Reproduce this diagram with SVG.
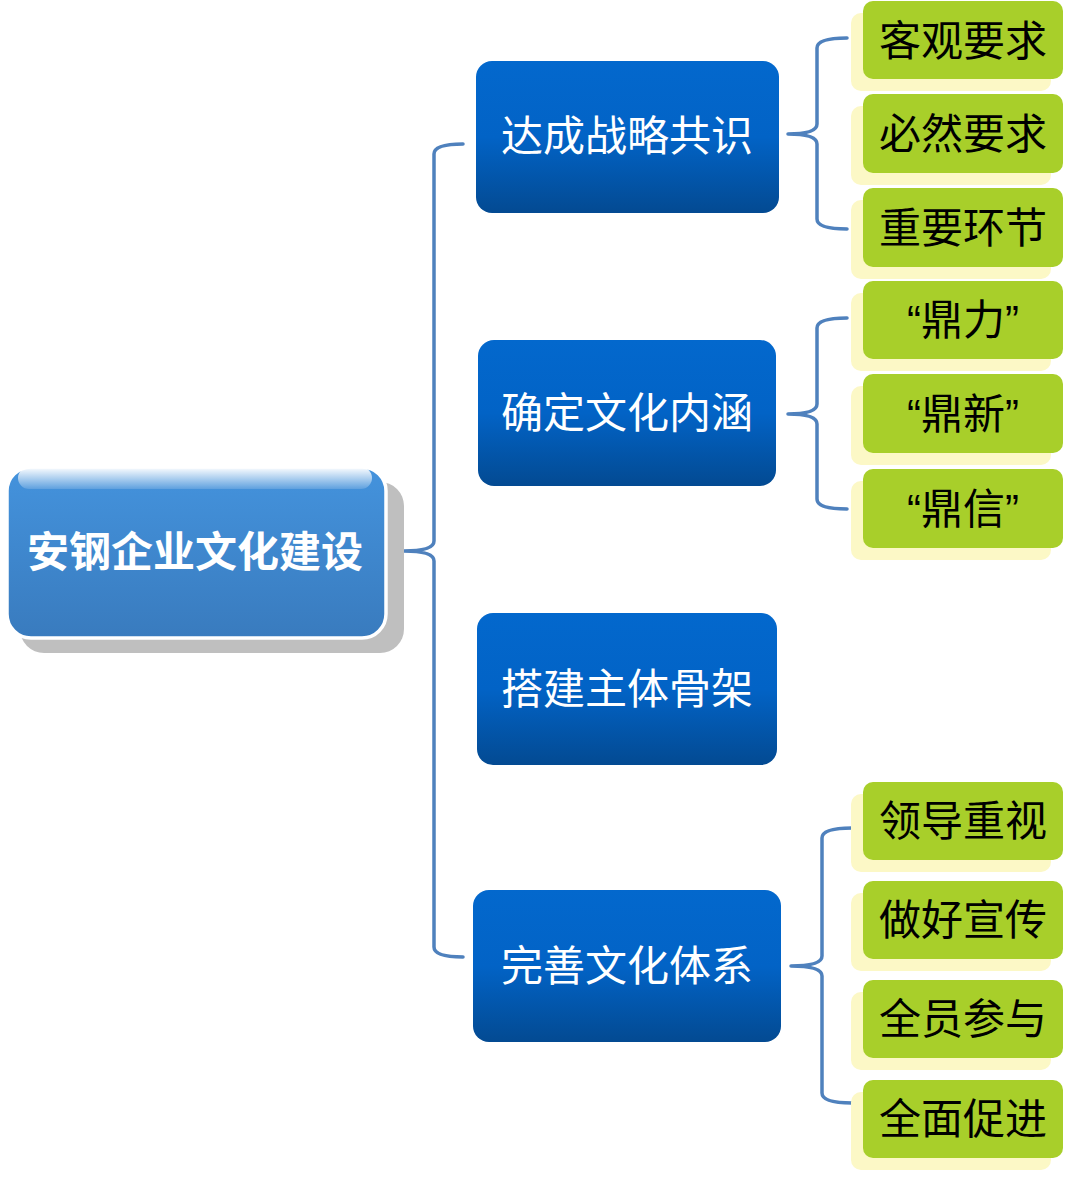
<svg xmlns="http://www.w3.org/2000/svg" width="1073" height="1182" viewBox="0 0 1073 1182">
<defs>
<linearGradient id="gBlue" x1="0" y1="0" x2="0" y2="1">
<stop offset="0" stop-color="#0368CD"/>
<stop offset="0.5" stop-color="#0263C6"/>
<stop offset="1" stop-color="#034A92"/>
</linearGradient>
<linearGradient id="gRoot" x1="0" y1="0" x2="0" y2="1">
<stop offset="0" stop-color="#4493DD"/>
<stop offset="1" stop-color="#397BBE"/>
</linearGradient>
<linearGradient id="gHi" x1="0" y1="0" x2="0" y2="1">
<stop offset="0" stop-color="#FFFFFF" stop-opacity="1"/>
<stop offset="1" stop-color="#FFFFFF" stop-opacity="0.15"/>
</linearGradient>
<style>
.conn{fill:none;stroke:#4F81BD;stroke-width:3.5;stroke-linejoin:round;stroke-linecap:round}
.blue{fill:url(#gBlue)}
.sh{fill:#FCF8C6}
.grn{fill:#A8CF2A}
.tw{font-family:"Noto Sans CJK SC","Noto Sans CJK TC",sans-serif;font-size:42px;fill:#FFFFFF;text-anchor:middle}
.tb{font-family:"Liberation Sans","Noto Sans CJK SC",sans-serif;font-size:42px;fill:#000000;text-anchor:middle}
.tr{font-family:"Noto Sans CJK SC",sans-serif;font-size:42px;font-weight:bold;fill:#FFFFFF;text-anchor:middle}
</style>
</defs>
<g id="connectors">
<path class="conn" d="M463,144 Q434,144 434,154 L434,541 Q434,551 404,551 Q434,551 434,561 L434,947 Q434,957 463,957"/>
<path class="conn" d="M847,38 Q817,38 817,48 L817,124 Q817,134 788,134 Q817,134 817,144 L817,219 Q817,229 847,229"/>
<path class="conn" d="M847,318 Q817,318 817,328 L817,404 Q817,414 788,414 Q817,414 817,424 L817,499 Q817,509 847,509"/>
<path class="conn" d="M852,828 Q822,828 822,838 L822,956 Q822,966 791,966 Q822,966 822,976 L822,1093 Q822,1103 852,1103"/>
</g>
<g id="root">
<rect x="20" y="482" width="384" height="171" rx="24" fill="#BFBFBF"/>
<rect x="7" y="467" width="379" height="171" rx="24" fill="url(#gRoot)" stroke="#FFFFFF" stroke-width="3.5"/>
<rect x="18" y="467" width="354" height="22" rx="11" fill="url(#gHi)"/>
<text class="tr" x="195" y="567">安钢企业文化建设</text>
</g>
<g id="n1">
<rect class="blue" x="476" y="61" width="303" height="152" rx="16"/>
<text class="tw" x="627" y="151">达成战略共识</text>
</g>
<g id="n2">
<rect class="blue" x="478" y="340" width="298" height="146" rx="16"/>
<text class="tw" x="627" y="428">确定文化内涵</text>
</g>
<g id="n3">
<rect class="blue" x="477" y="613" width="300" height="152" rx="16"/>
<text class="tw" x="627" y="704">搭建主体骨架</text>
</g>
<g id="n4">
<rect class="blue" x="473" y="890" width="308" height="152" rx="16"/>
<text class="tw" x="627" y="981">完善文化体系</text>
</g>
<g id="g1">
<rect class="sh" x="851" y="13" width="200" height="78" rx="10"/>
<rect class="grn" x="863" y="1" width="200" height="78" rx="10"/>
<text class="tb" x="963" y="56">客观要求</text>
</g>
<g id="g2">
<rect class="sh" x="851" y="106" width="200" height="79" rx="10"/>
<rect class="grn" x="863" y="94" width="200" height="79" rx="10"/>
<text class="tb" x="963" y="149">必然要求</text>
</g>
<g id="g3">
<rect class="sh" x="851" y="200" width="200" height="79" rx="10"/>
<rect class="grn" x="863" y="188" width="200" height="79" rx="10"/>
<text class="tb" x="963" y="243">重要环节</text>
</g>
<g id="g4">
<rect class="sh" x="851" y="293" width="200" height="78" rx="10"/>
<rect class="grn" x="863" y="281" width="200" height="78" rx="10"/>
<text class="tb" x="963" y="335">“鼎力”</text>
</g>
<g id="g5">
<rect class="sh" x="851" y="386" width="200" height="79" rx="10"/>
<rect class="grn" x="863" y="374" width="200" height="79" rx="10"/>
<text class="tb" x="963" y="429">“鼎新”</text>
</g>
<g id="g6">
<rect class="sh" x="851" y="481" width="200" height="79" rx="10"/>
<rect class="grn" x="863" y="469" width="200" height="79" rx="10"/>
<text class="tb" x="963" y="524">“鼎信”</text>
</g>
<g id="g7">
<rect class="sh" x="851" y="794" width="200" height="78" rx="10"/>
<rect class="grn" x="863" y="782" width="200" height="78" rx="10"/>
<text class="tb" x="963" y="836">领导重视</text>
</g>
<g id="g8">
<rect class="sh" x="851" y="893" width="200" height="78" rx="10"/>
<rect class="grn" x="863" y="881" width="200" height="78" rx="10"/>
<text class="tb" x="963" y="935">做好宣传</text>
</g>
<g id="g9">
<rect class="sh" x="851" y="992" width="200" height="78" rx="10"/>
<rect class="grn" x="863" y="980" width="200" height="78" rx="10"/>
<text class="tb" x="963" y="1034">全员参与</text>
</g>
<g id="g10">
<rect class="sh" x="851" y="1092" width="200" height="78" rx="10"/>
<rect class="grn" x="863" y="1080" width="200" height="78" rx="10"/>
<text class="tb" x="963" y="1134">全面促进</text>
</g>
</svg>
